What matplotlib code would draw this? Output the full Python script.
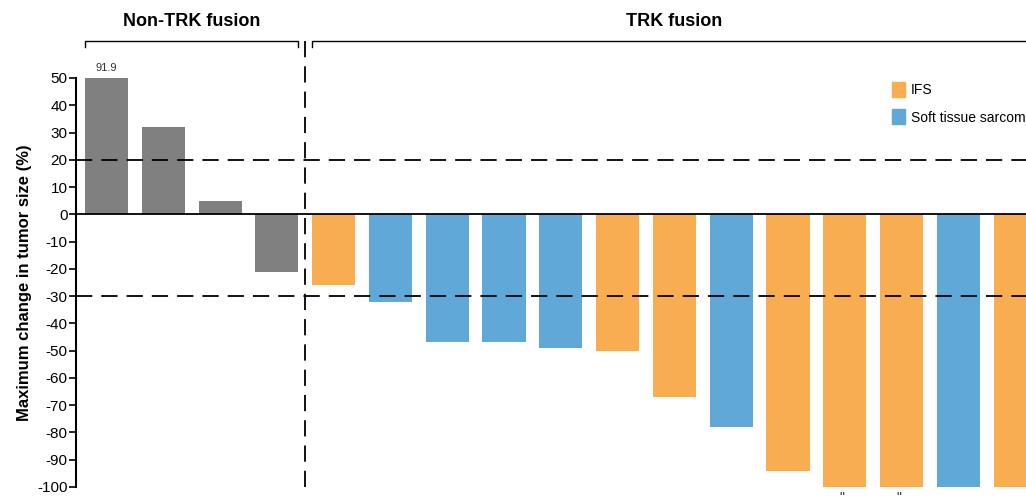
"""
Waterfall plot of maximum change in tumor size, non-TRK vs TRK fusion.
"""

import matplotlib
matplotlib.use("Agg")
import matplotlib.pyplot as plt
import matplotlib.transforms as mtransforms
from matplotlib.patches import Patch
from matplotlib import font_manager

# data
groups = ["Non-TRK", "Non-TRK", "Non-TRK", "Non-TRK",
          "IFS", "STS", "STS", "STS", "STS", "IFS", "IFS", "STS",
          "IFS", "IFS", "IFS", "STS", "IFS"]
changes = [50, 32, 5, -21,
           -26, -32, -47, -47, -49, -50, -67, -78,
           -94, -100, -100, -100, -100]
capped_label = "91.9"
yticks = list(range(50, -101, -10))

colors = {"Non-TRK": "#808080", "IFS": "#F7AD50", "STS": "#60A8D8"}

names = {f.name for f in font_manager.fontManager.ttflist}
font = "Liberation Sans Narrow" if "Liberation Sans Narrow" in names else "Liberation Sans"
plt.rcParams["font.family"] = [font, "DejaVu Sans"]

fig = plt.figure(figsize=(10.26, 4.99), dpi=100)
W, H = 1026, 499
ax = fig.add_axes([76 / W, 1 - 487 / H, (W - 76) / W, 409 / H])

x = list(range(len(changes)))
ax.bar(x, changes, width=0.76, color=[colors[g] for g in groups], zorder=2)

ax.set_xlim(-0.537, 16.19)
ax.set_ylim(-100, 50)
ax.set_yticks(yticks)
ax.set_yticklabels([str(t) for t in yticks], fontsize=11)
ax.tick_params(axis="y", length=5, width=1.2, pad=1)
ax.set_xticks([])
for s in ["top", "right", "bottom"]:
    ax.spines[s].set_visible(False)
ax.spines["left"].set_linewidth(1.5)
ax.set_ylabel("Maximum change in tumor size (%)", fontsize=12, fontweight="bold", labelpad=4)

ax.axhline(0, color="black", lw=1.3, zorder=3)
ax.axhline(20, color="black", lw=1.3, ls=(0, (9, 5)), zorder=3)
ax.axhline(-30, color="black", lw=1.3, ls=(0, (9, 5)), zorder=3)

ax.text(0, 52, capped_label, ha="center", va="bottom", fontsize=8, color="#333333")

trans = mtransforms.blended_transform_factory(ax.transData, ax.transAxes)
ax.plot([3.5, 3.5], [0, 1.095], color="black", lw=1.3, ls=(0, (9, 5)),
        transform=trans, clip_on=False)

# group brackets
ytop, ytick = 1.0905, 1.0758
ax.plot([-0.38, -0.38, 3.38, 3.38], [ytick, ytop, ytop, ytick], color="black",
        lw=1.0, transform=trans, clip_on=False)
ax.plot([3.62, 3.62, 16.5], [ytick, ytop, ytop], color="black",
        lw=1.0, transform=trans, clip_on=False)
ax.text(1.5, 1.137, "Non-TRK fusion", ha="center", va="center", fontsize=13,
        fontweight="bold", transform=trans)
ax.text(10, 1.137, "TRK fusion", ha="center", va="center", fontsize=13,
        fontweight="bold", transform=trans)

# small marks below the last bars
for xi in [13, 14]:
    ax.text(xi - 0.05, -101.5, "\"", ha="center", va="top", fontsize=10, color="#333333",
            clip_on=False)

handles = [Patch(color=colors["IFS"], label="IFS"),
           Patch(color=colors["STS"], label="Soft tissue sarcoma")]
fig.legend(handles=handles, loc="upper left", bbox_to_anchor=(886 / W, 1 - 76 / H),
           frameon=False, fontsize=10, handlelength=1.0, handleheight=1.3,
           handletextpad=0.4, labelspacing=0.9, borderaxespad=0)

fig.savefig("out.png", dpi=100)
